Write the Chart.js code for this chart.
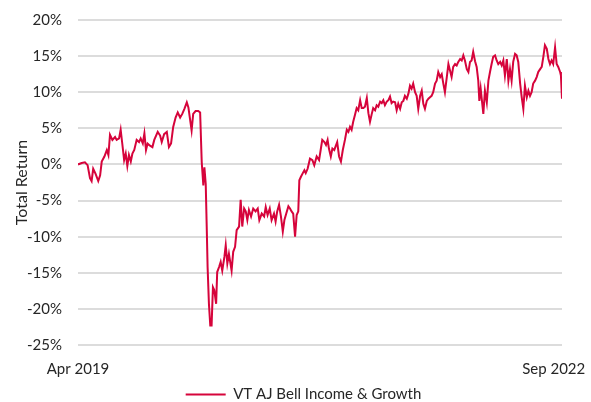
<!DOCTYPE html>
<html>
<head>
<meta charset="utf-8">
<script src="https://cdn.jsdelivr.net/npm/chart.js@4/dist/chart.umd.min.js"></script>
<style>
  html, body { margin: 0; padding: 0; background: #fff; }
  #wrap { width: 591px; height: 402px; }
</style>
</head>
<body>
<div id="wrap"><canvas id="chart" width="591" height="402"></canvas></div>
<script>
// weeks since start of Apr 2019
const weeks = [
  0, 1.4, 2.6, 3.6, 4.5, 5.1, 5.7, 6.6, 7.6, 8.3, 8.9, 9.9, 10.8, 11.4, 12.0, 12.9, 13.9, 14.5, 15.4, 16.0,
  16.6, 17.3, 17.9, 18.5, 19.1, 19.8, 20.4, 21.1, 22.0, 22.9, 23.5, 24.3, 24.9, 25.5, 26.1, 27.0, 27.9, 28.6,
  29.9, 30.8, 31.4, 32.3, 33.3, 34.1, 34.9, 35.7, 36.6, 37.4, 38.3, 39.1, 39.9, 40.8, 41.4, 42.0, 42.6, 43.2,
  44.1, 45.1, 45.8, 46.4, 47.0, 47.4, 47.9, 48.3, 48.6, 49.1, 49.6, 50.1, 50.6, 51.1, 51.8, 52.2, 52.9, 53.5,
  54.1, 54.9, 55.4, 56.0, 56.6, 57.6, 58.2, 58.9,
  59.5, 60.4, 61.0, 61.6, 62.3, 62.9, 63.5, 64.1, 64.9, 65.7, 66.6, 67.4, 68.0, 68.9, 69.8, 70.4, 71.1, 71.9,
  72.6, 73.5, 74.1, 74.7, 75.4, 76.1, 76.8, 77.4, 78.1, 78.9, 79.5, 80.1, 80.7, 81.4, 82.0, 82.6, 83.0, 83.6,
  84.3, 84.9, 85.4, 86.1, 87.0, 87.9, 88.6,
  89.5, 90.4, 91.0, 91.6, 92.4, 93.0, 93.6, 94.1, 94.8, 95.4, 96.1, 96.6, 97.2, 97.9, 98.6, 99.3, 100.1, 100.8,
  101.4, 102.0, 102.6, 103.2, 103.9, 104.5, 105.1, 105.8, 106.4, 107.0, 107.6, 108.3, 108.9, 109.5, 110.1,
  110.7, 111.4, 112.0, 112.6, 113.3, 113.9, 114.5, 115.1, 115.8, 116.4, 117.0, 117.6, 118.2,
  118.9, 119.5, 120.1, 120.8, 121.4, 122.0, 122.6, 123.3, 123.9, 124.5, 125.1, 125.7, 126.4, 127.0, 127.6,
  128.3, 128.9, 129.5, 130.1, 130.8, 131.4, 132.0, 132.6, 133.2, 133.9, 134.5, 135.1, 135.8, 136.4, 137.0,
  137.6, 138.3, 138.9, 139.5, 140.1, 140.7, 141.4, 142.0, 142.6, 143.3, 143.9, 144.5, 145.1, 145.8, 146.4,
  147.0, 147.6, 148.2,
  148.9, 149.5, 150.1, 150.5, 151.0, 151.6, 152.0, 152.6, 153.3, 153.9, 154.5, 155.1, 155.7, 156.4, 157.0,
  157.6, 158.3, 158.9, 159.5, 160.1, 160.8, 161.4, 162.0, 162.6, 163.2, 163.9, 164.5, 165.1, 165.8, 166.4,
  167.0, 167.6, 168.3, 168.9, 169.5, 170.1, 170.7, 171.4, 172.0, 172.6, 173.3, 173.9, 174.5, 175.1, 175.8,
  176.4, 177.0, 177.6, 178.2, 178.9, 179.5, 180.1, 180.8, 181.1, 181.5
];

// total return, %
const totalReturn = [
  0.0, 0.2, 0.3, -0.1, -1.9, -2.3, -0.6, -1.3, -2.3, -1.5, 0.4, 1.1, 2.0, 1.3, 4.1, 3.4, 3.8, 3.4, 3.6, 4.8,
  2.9, 0.6, 1.5, -0.2, 1.3, 0.4, 1.5, 2.0, 3.4, 3.1, 3.6, 2.9, 4.3, 2.0, 2.9, 2.6, 2.4, 3.4,
  4.5, 4.0, 3.1, 4.2, 4.5, 2.4, 2.9, 5.2, 6.5, 7.2, 6.5, 7.0, 7.7, 8.6, 7.9, 6.3, 4.7, 7.0,
  7.4, 7.4, 7.2, 0.3, -2.9, -0.4, -2.7, -9.1, -14.2, -19.3, -22.3, -22.3, -17.0, -17.4, -19.3, -14.9, -14.2, -13.5,
  -14.7, -12.8, -11.2, -13.7, -12.4, -14.7, -12.1, -11.4,
  -9.1, -8.6, -4.9, -8.6, -6.1, -6.5, -7.7, -6.3, -7.2, -6.1, -6.5, -6.1, -7.7, -6.8, -7.2, -5.9, -7.0, -6.1,
  -7.7, -6.8, -7.9, -6.5, -5.6, -7.2, -9.3, -7.7, -6.8, -5.8, -6.1, -6.5, -6.8, -10.0, -7.0, -6.5, -2.2, -1.7,
  -1.2, -0.8, -1.2, -0.6, 0.8, 0.6, -0.1,
  1.1, 0.6, 2.0, 3.4, 3.1, 2.7, 3.4, 2.2, 1.1, 2.2, 2.0, 2.5, 3.1, 1.1, 0.4, 2.0, 3.4, 4.8,
  4.5, 5.2, 4.8, 5.9, 6.9, 7.8, 7.5, 8.9, 7.8, 7.8, 8.0, 9.2, 7.1, 5.9, 6.9,
  7.8, 7.5, 8.2, 8.0, 8.7, 8.5, 8.9, 8.2, 8.7, 8.9, 9.4, 8.5, 8.7,
  8.6, 7.5, 8.4, 7.7, 8.6, 8.8, 9.5, 9.1, 9.8, 10.9, 10.5, 11.2, 10.0, 9.5, 7.7,
  9.5, 10.2, 8.4, 7.7, 8.8, 9.1, 9.3, 9.5, 10.0, 11.2, 11.6, 12.8, 12.1, 12.5, 11.2,
  10.0, 12.1, 13.9, 13.0, 12.1, 13.5, 13.9, 13.7, 14.2, 14.6, 14.4, 15.1, 14.4, 13.2, 12.8,
  14.2, 14.4, 15.6,
  14.3, 13.5, 11.6, 8.8, 10.5, 8.4, 7.0, 10.2, 8.6, 11.6, 12.8, 13.9, 14.9, 15.1, 14.4,
  13.9, 14.2, 13.7, 14.4, 12.3, 14.6, 11.6, 13.2, 11.6, 14.2, 15.3, 15.1, 14.2, 11.2, 9.3,
  7.7, 10.9, 9.3, 10.2, 9.5, 10.0, 11.2, 11.6, 12.1, 12.8, 13.2, 13.5, 14.9, 16.5, 16.0,
  14.6, 13.9, 14.4, 13.9, 16.2, 13.9, 13.5, 12.8, 12.3, 9.1
];

const xTickWeeks = [0, 178.4];
const xTickLabels = ['Apr 2019', 'Sep 2022'];
const seriesName = 'VT AJ Bell Income & Growth';
const yTitle = 'Total Return';

Chart.defaults.font.family = 'Lato';
Chart.defaults.font.size = 15;
Chart.defaults.color = '#262626';

const points = weeks.map((w, i) => ({ x: w, y: totalReturn[i] }));

// nudge the legend a little to the right, like the original
const legendNudge = {
  id: 'legendNudge',
  afterLayout: chart => {
    chart.legend.left += 9;
    chart.legend.right += 9;
  }
};

new Chart(document.getElementById('chart'), {
  type: 'line',
  data: {
    datasets: [{
      label: seriesName,
      data: points,
      borderColor: '#d6043b',
      backgroundColor: '#d6043b',
      borderWidth: 2,
      pointRadius: 0,
      tension: 0
    }]
  },
  options: {
    responsive: false,
    animation: false,
    devicePixelRatio: 1,
    layout: { padding: { left: 27, right: 29, top: 20, bottom: -10 } },
    plugins: {
      tooltip: { enabled: false },
      legend: {
        position: 'bottom',
        labels: {
          usePointStyle: true,
          pointStyle: 'line',
          pointStyleWidth: 40,
          boxHeight: 15,
          padding: 8
        }
      }
    },
    scales: {
      x: {
        type: 'linear',
        min: 0,
        max: weeks[weeks.length - 1],
        grid: { display: false, drawTicks: false },
        border: { display: false },
        ticks: {
          padding: 15,
          maxRotation: 0,
          callback: (v, i) => xTickLabels[i]
        },
        afterBuildTicks: s => { s.ticks = xTickWeeks.map(v => ({ value: v })); },
        afterFit: s => { s.height = 34; s.paddingLeft = 0; s.paddingRight = 0; }
      },
      y: {
        min: -25,
        max: 20,
        grid: { color: '#dcdcdc', lineWidth: 2, drawTicks: false },
        border: { display: false },
        ticks: {
          stepSize: 5,
          padding: 16,
          callback: v => v + '%'
        },
        title: {
          display: true,
          text: yTitle,
          font: { size: 16 },
          padding: { top: -14.6, bottom: 0 }
        },
        afterFit: s => { s.width = 51; s.paddingTop = 0; s.paddingBottom = 0; }
      }
    }
  },
  plugins: [legendNudge]
});
</script>
</body>
</html>
